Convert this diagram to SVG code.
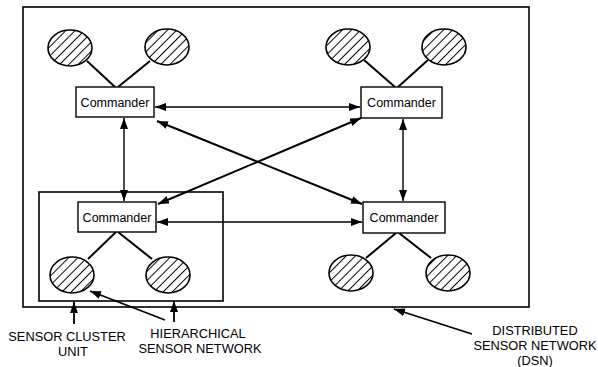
<svg xmlns="http://www.w3.org/2000/svg" width="598" height="367" viewBox="0 0 598 367">
<style>
.frame{fill:none;stroke:#000;stroke-width:1.6}
.cmd{fill:#fff;stroke:#000;stroke-width:1.4}
.sen{fill:url(#hatch);stroke:#000;stroke-width:1.6}
.link{stroke:#000;stroke-width:2;fill:none}
.arr{stroke:#000;stroke-width:1.4;fill:none;marker-start:url(#ah);marker-end:url(#ah)}
.arrd{stroke:#000;stroke-width:2;fill:none;marker-start:url(#ah);marker-end:url(#ah)}
.ptr{stroke:#000;stroke-width:1.8;fill:none;marker-end:url(#ah)}
text{font-family:"Liberation Sans",Arial,sans-serif;fill:#000}
.ct{font-size:12.5px}
.lb{font-size:12.8px}
</style>
<defs>
<pattern id="hatch" patternUnits="userSpaceOnUse" width="6.5" height="6.5" patternTransform="rotate(-45)">
<rect width="6.5" height="6.5" fill="#fff"/>
<line x1="0" y1="3.25" x2="6.5" y2="3.25" stroke="#000" stroke-width="1"/>
</pattern>
<marker id="ah" markerUnits="userSpaceOnUse" markerWidth="11" markerHeight="8" refX="11" refY="4" orient="auto-start-reverse">
<path d="M0,0 L11,4 L0,8 z" fill="#000"/>
</marker>
</defs>
<g id="dsn"><rect class="frame" x="23" y="7" width="506" height="300"/></g>
<g id="cluster"><rect class="frame" x="39" y="192" width="184" height="109"/></g>
<g id="connectors">
<line class="link" x1="87" y1="61" x2="115" y2="87"/>
<line class="link" x1="150" y1="61" x2="118" y2="87"/>
<line class="link" x1="364" y1="60" x2="395" y2="87"/>
<line class="link" x1="428" y1="60" x2="398" y2="87"/>
<line class="link" x1="116" y1="232" x2="88" y2="259"/>
<line class="link" x1="118" y1="232" x2="152" y2="259"/>
<line class="link" x1="396" y1="233" x2="366" y2="258"/>
<line class="link" x1="399" y1="233" x2="431" y2="258"/>
<line class="arr" x1="155" y1="107" x2="360" y2="107"/>
<line class="arr" x1="157" y1="222" x2="362" y2="222"/>
<line class="arr" x1="124" y1="118" x2="124" y2="201"/>
<line class="arr" x1="403" y1="119" x2="403" y2="201"/>
<line class="arrd" x1="157" y1="121" x2="362" y2="204"/>
<line class="arrd" x1="158" y1="204" x2="361" y2="118"/>
<line class="ptr" x1="74" y1="324" x2="74" y2="302"/>
<line class="ptr" x1="174" y1="322" x2="174" y2="301"/>
<line class="ptr" x1="165" y1="320" x2="90" y2="291"/>
<line class="ptr" x1="472" y1="334" x2="394" y2="309"/>
</g>
<g id="sensor-tl1"><ellipse class="sen" cx="70" cy="48" rx="22" ry="18"/></g>
<g id="sensor-tl2"><ellipse class="sen" cx="167" cy="47" rx="22" ry="18"/></g>
<g id="sensor-tr1"><ellipse class="sen" cx="348" cy="47" rx="22" ry="18"/></g>
<g id="sensor-tr2"><ellipse class="sen" cx="444" cy="47" rx="22" ry="18"/></g>
<g id="sensor-bl1"><ellipse class="sen" cx="72" cy="275" rx="22" ry="18"/></g>
<g id="sensor-bl2"><ellipse class="sen" cx="168" cy="275" rx="22" ry="18"/></g>
<g id="sensor-br1"><ellipse class="sen" cx="351" cy="273" rx="22" ry="18"/></g>
<g id="sensor-br2"><ellipse class="sen" cx="448" cy="273" rx="22" ry="18"/></g>
<g id="cmd-tl"><rect class="cmd" x="76" y="87" width="78" height="30"/><text class="ct" x="115" y="106.5" text-anchor="middle">Commander</text></g>
<g id="cmd-tr"><rect class="cmd" x="361" y="87" width="81" height="31"/><text class="ct" x="401.5" y="106.5" text-anchor="middle">Commander</text></g>
<g id="cmd-bl"><rect class="cmd" x="78" y="202" width="78" height="30"/><text class="ct" x="117" y="221.5" text-anchor="middle">Commander</text></g>
<g id="cmd-br"><rect class="cmd" x="363" y="202" width="82" height="31"/><text class="ct" x="404" y="221.5" text-anchor="middle">Commander</text></g>
<g id="label-scu"><text class="lb" x="67" y="341" text-anchor="middle">SENSOR CLUSTER</text><text class="lb" x="73" y="356" text-anchor="middle">UNIT</text></g>
<g id="label-hsn"><text class="lb" x="198" y="338" text-anchor="middle">HIERARCHICAL</text><text class="lb" x="200" y="353" text-anchor="middle">SENSOR NETWORK</text></g>
<g id="label-dsn"><text class="lb" x="535" y="335" text-anchor="middle">DISTRIBUTED</text><text class="lb" x="535" y="350" text-anchor="middle">SENSOR NETWORK</text><text class="lb" x="535" y="365" text-anchor="middle">(DSN)</text></g>
</svg>
